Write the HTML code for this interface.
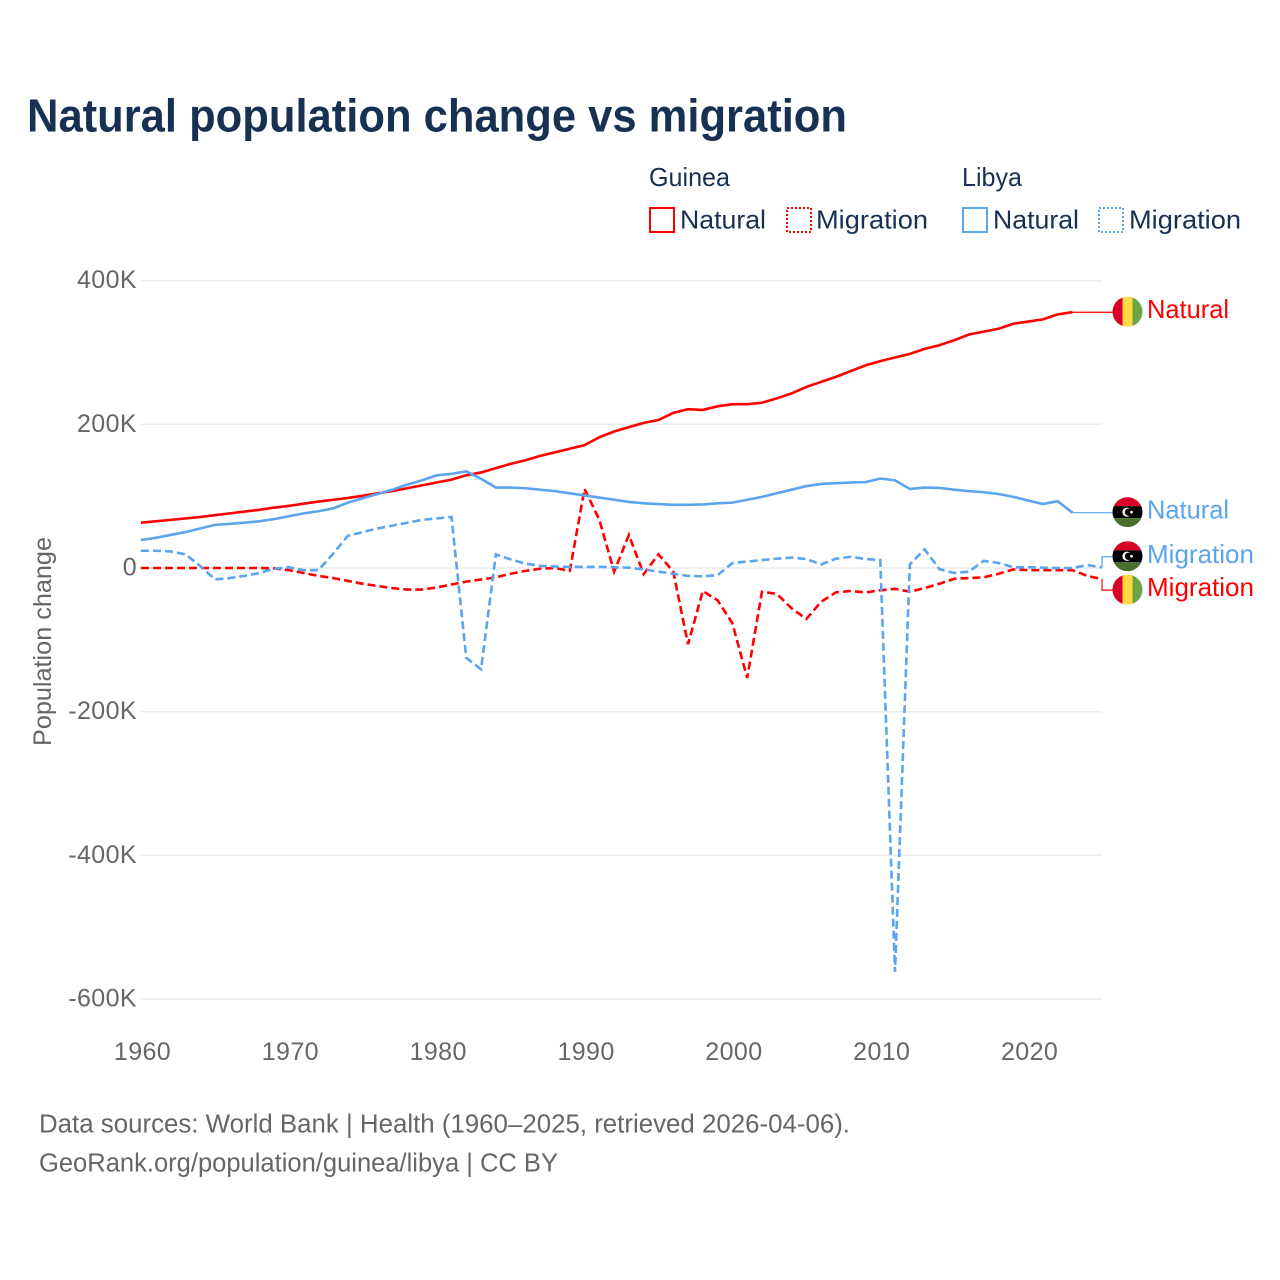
<!DOCTYPE html>
<html lang="en">
<head>
<meta charset="utf-8">
<title>Natural population change vs migration</title>
<style>
html,body{margin:0;padding:0;background:#fff;}
svg{display:block;font-family:"Liberation Sans",sans-serif;}
</style>
</head>
<body>
<svg id="chart" xmlns="http://www.w3.org/2000/svg" width="1280" height="1280" viewBox="0 0 1280 1280">
  <defs>
    <clipPath id="flag-clip"><circle cx="0" cy="0" r="15"/></clipPath>
  </defs>
  <rect x="0" y="0" width="1280" height="1280" fill="#fff"/>
  <text x="27" y="131.500" font-size="46" font-weight="700" fill="#183153" textLength="820" lengthAdjust="spacingAndGlyphs">Natural population change vs migration</text>

  <g font-size="26" fill="#183153">
    <text x="649" y="186" textLength="81" lengthAdjust="spacingAndGlyphs">Guinea</text>
    <text x="962" y="186" textLength="60" lengthAdjust="spacingAndGlyphs">Libya</text>
    <g>
      <rect x="650" y="208" width="24" height="24" fill="none" stroke="#ff0000" stroke-width="2"/>
      <text x="680" y="228.500" textLength="86" lengthAdjust="spacingAndGlyphs">Natural</text>
    </g>
    <g>
      <rect x="787" y="208" width="24" height="24" fill="none" stroke="#ff0000" stroke-width="2" stroke-dasharray="2 2"/>
      <text x="816" y="228.500" textLength="112" lengthAdjust="spacingAndGlyphs">Migration</text>
    </g>
    <g>
      <rect x="963" y="208" width="24" height="24" fill="none" stroke="#5ba4ee" stroke-width="2"/>
      <text x="993" y="228.500" textLength="86" lengthAdjust="spacingAndGlyphs">Natural</text>
    </g>
    <g>
      <rect x="1099" y="208" width="24" height="24" fill="none" stroke="#5ba4ee" stroke-width="2" stroke-dasharray="2 2"/>
      <text x="1129" y="228.500" textLength="112" lengthAdjust="spacingAndGlyphs">Migration</text>
    </g>
  </g>

  <g id="grid"></g>
  <g id="yticks"></g>
  <g id="xticks"></g>
  <text transform="translate(51,746) rotate(-90)" font-size="25" fill="#666666" textLength="209" lengthAdjust="spacingAndGlyphs">Population change</text>
  <g id="series"></g>
  <g id="endlabels"></g>

  <g font-size="25.500" fill="#666666">
    <text x="39" y="1132.500" textLength="811" lengthAdjust="spacingAndGlyphs">Data sources: World Bank | Health (1960–2025, retrieved 2026-04-06).</text>
    <text x="39" y="1171.500" textLength="519" lengthAdjust="spacingAndGlyphs">GeoRank.org/population/guinea/libya | CC BY</text>
  </g>
</svg>
<script>
const yTickValues = [400, 200, 0, -200, -400, -600];
const yTickLabels = ["400K", "200K", "0", "-200K", "-400K", "-600K"];
const xTickYears = [1960, 1970, 1980, 1990, 2000, 2010, 2020];
const firstYear = 1960;

const guineaNatural = [63,65,67,69,71,73.5,76,78.5,81,84,86.5,89.5,92.5,95,97.5,100.5,104,107,111,115,119,123,129,133,139,145,150,156,161,166,171,182,190,196,202,206,216,221,220,225,228,228,230,236,243,252,259,266,274,282,288,293,298,305,310,317,325,329,333,340,343,346,353,356];
const libyaNatural = [39,42,46,50,55,60,61.5,63,65,68,72,76,79,83,91,97,103,109,116,122,129,131,134.5,124,112,112,111,109,107,104,101,98,95,92,90,89,88,88,88.5,90,91,95,99,104,109,114,117,118,119,119.5,124.5,122,110,112,111.5,109,107,105.5,103,99,94,89,93,77];
const guineaMigration = [0,0,0,0,0,0,0,0,0,-0.5,-3,-7,-11,-14,-18,-22,-25,-28,-30,-30,-27,-23,-19,-16,-13,-8,-4,-1,0,-4,110,67,-5,46,-8.5,19,-5,-106,-32,-45,-77,-153,-33,-36,-56,-71,-47,-34,-32,-34,-31,-29,-33,-28,-22,-15,-14,-13,-8,-2,-3,-3,-3,-3,-11,-15.5];
const libyaMigration = [24,24,23,19,3,-16,-14,-11,-7,-1,1,-3,-3,20,45,50,55,59,63,67,69,71,-125,-141,19,12,6,3,2,1.5,1.5,1.5,1,0.5,-2,-5,-8,-11,-11.5,-10,7,9,11,13,14.5,12.5,5,13,15.5,12.5,11,-562,5,26,-1.5,-7,-5,10,7,1,1,0.5,0,0,4,1];

const X0 = 141, XSTEP = 14.785, Y0 = 568, YSCALE = 0.7185;
const RED = "#ff0000", BLUE = "#5ba4ee";
const svgNS = "http://www.w3.org/2000/svg";
function xScale(year) { return X0 + (year - firstYear) * XSTEP; }
function yScale(v) { return Y0 - v * YSCALE; }
function mk(tag, parent) {
  const el = document.createElementNS(svgNS, tag);
  parent.appendChild(el);
  return el;
}
const gridG = document.getElementById("grid");
const yG = document.getElementById("yticks");
const xG = document.getElementById("xticks");
const seriesG = document.getElementById("series");
const labelsG = document.getElementById("endlabels");

yTickValues.forEach(function (v, i) {
  const line = mk("line", gridG);
  
  
  line.setAttribute("x1", 141);
  line.setAttribute("x2", 1102);
  line.setAttribute("y1", yScale(v));
  line.setAttribute("y2", yScale(v));
  line.setAttribute("stroke", "#ececec");
  line.setAttribute("stroke-width", 1.5);
  const t = mk("text", yG);
  
  
  t.setAttribute("x", 137);
  t.setAttribute("y", yScale(v) + 7.5);
  t.setAttribute("text-anchor", "end");
  t.setAttribute("font-size", 25);
  t.setAttribute("letter-spacing", 0.4);
  t.setAttribute("fill", "#666666");
  t.textContent = yTickLabels[i];
});

xTickYears.forEach(function (yr) {
  const t = mk("text", xG);
  
  
  t.setAttribute("x", xScale(yr) + 1.5);
  t.setAttribute("y", 1060);
  t.setAttribute("text-anchor", "middle");
  t.setAttribute("font-size", 25);
  t.setAttribute("letter-spacing", 0.4);
  t.setAttribute("fill", "#666666");
  t.textContent = String(yr);
});

function drawSeries(values, color, dashed, name) {
  const p = mk("polyline", seriesG);
  
  
  p.setAttribute("points", values.map(function (v, i) {
    return xScale(firstYear + i).toFixed(2) + "," + yScale(v).toFixed(2);
  }).join(" "));
  p.setAttribute("fill", "none");
  p.setAttribute("stroke", color);
  p.setAttribute("stroke-width", 2.6);
  p.setAttribute("stroke-linejoin", "miter");
  if (dashed) p.setAttribute("stroke-dasharray", "8 4");
}
drawSeries(guineaNatural, RED, false, 'line-guinea-natural');
drawSeries(guineaMigration, RED, true, 'line-guinea-migration');
drawSeries(libyaNatural, BLUE, false, 'line-libya-natural');
drawSeries(libyaMigration, BLUE, true, 'line-libya-migration');

function guineaFlag(g) {
  const a = mk("rect", g); a.setAttribute("x", -15); a.setAttribute("y", -15); a.setAttribute("width", 10); a.setAttribute("height", 30); a.setAttribute("fill", "#d80027");
  const b = mk("rect", g); b.setAttribute("x", -5); b.setAttribute("y", -15); b.setAttribute("width", 10); b.setAttribute("height", 30); b.setAttribute("fill", "#ffda44");
  const c = mk("rect", g); c.setAttribute("x", 5); c.setAttribute("y", -15); c.setAttribute("width", 10); c.setAttribute("height", 30); c.setAttribute("fill", "#6da544");
}
function libyaFlag(g) {
  const a = mk("rect", g); a.setAttribute("x", -15); a.setAttribute("y", -15); a.setAttribute("width", 30); a.setAttribute("height", 9); a.setAttribute("fill", "#d80027");
  const b = mk("rect", g); b.setAttribute("x", -15); b.setAttribute("y", -6); b.setAttribute("width", 30); b.setAttribute("height", 12); b.setAttribute("fill", "#000000");
  const c = mk("rect", g); c.setAttribute("x", -15); c.setAttribute("y", 6); c.setAttribute("width", 30); c.setAttribute("height", 9); c.setAttribute("fill", "#496e2d");
  const d = mk("circle", g); d.setAttribute("cx", -0.5); d.setAttribute("cy", 0); d.setAttribute("r", 4.6); d.setAttribute("fill", "#ffffff");
  const e = mk("circle", g); e.setAttribute("cx", 1); e.setAttribute("cy", 0); e.setAttribute("r", 3.7); e.setAttribute("fill", "#000000");
  const s = mk("circle", g); s.setAttribute("cx", 4); s.setAttribute("cy", 0); s.setAttribute("r", 1.4); s.setAttribute("fill", "#ffffff");
}

function endLabel(values, color, nudge, flag, text, width, name) {
  const lastX = xScale(firstYear + values.length - 1);
  const lastY = yScale(values[values.length - 1]);
  const cy = lastY + nudge;
  const conn = mk("polyline", labelsG);
  
  
  const elbow = Math.max(lastX, 1102);
  conn.setAttribute("points", lastX + "," + lastY + " " + elbow + "," + lastY + " " + elbow + "," + cy + " 1113," + cy);
  conn.setAttribute("fill", "none");
  conn.setAttribute("stroke", color);
  conn.setAttribute("stroke-width", 1.2);
  const g = mk("g", labelsG);
  
  
  g.setAttribute("transform", "translate(1127.5," + (cy - 0.5) + ")");
  g.setAttribute("clip-path", "url(#flag-clip)");
  flag(g);
  const t = mk("text", labelsG);
  
  
  t.setAttribute("x", 1147);
  t.setAttribute("y", cy + 6);
  t.setAttribute("font-size", 26);
  t.setAttribute("fill", color);
  t.setAttribute("textLength", width);
  t.setAttribute("lengthAdjust", "spacingAndGlyphs");
  t.textContent = text;
}
endLabel(guineaNatural, RED, 0, guineaFlag, "Natural", 82, 'guinea-natural');
endLabel(libyaNatural, BLUE, 0, libyaFlag, "Natural", 82, 'libya-natural');
endLabel(libyaMigration, BLUE, -10.5, libyaFlag, "Migration", 107, 'libya-migration');
endLabel(guineaMigration, RED, 11, guineaFlag, "Migration", 107, 'guinea-migration');
</script>
</body>
</html>
